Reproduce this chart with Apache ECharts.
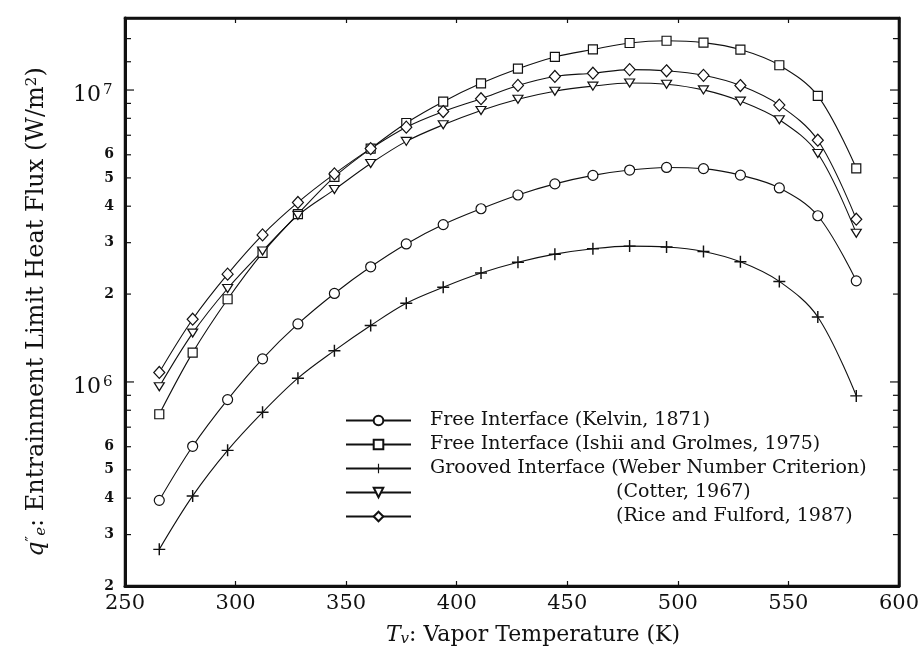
<!DOCTYPE html>
<html>
<head>
<meta charset="utf-8">
<script src="https://cdn.jsdelivr.net/npm/echarts@6/dist/echarts.min.js"></script>
<style>
  html, body { margin: 0; background: #fff; }
  #chart { width: 922px; height: 663px; }
</style>
</head>
<body>
<div id="chart"></div>
<script>
// vapor temperature (K) of each computed point
const temps = [265.5, 280.6, 296.4, 312.2, 328.2, 344.7, 361.1, 377.2, 393.9, 411.0,
               427.7, 444.4, 461.6, 478.2, 494.9, 511.6, 528.3, 545.9, 563.3, 580.7];

// entrainment limit heat flux (W/m2)
const kelvin = [3.93e5, 6.02e5, 8.70e5, 1.20e6, 1.58e6, 2.01e6, 2.48e6, 2.97e6, 3.46e6, 3.92e6,
                4.37e6, 4.77e6, 5.10e6, 5.32e6, 5.43e6, 5.38e6, 5.11e6, 4.62e6, 3.71e6, 2.22e6];
const ishii = [7.75e5, 1.26e6, 1.92e6, 2.77e6, 3.76e6, 5.04e6, 6.30e6, 7.71e6, 9.12e6, 1.054e7,
               1.183e7, 1.298e7, 1.377e7, 1.449e7, 1.475e7, 1.453e7, 1.376e7, 1.216e7, 9.55e6, 5.39e6];
const weber = [2.67e5, 4.07e5, 5.83e5, 7.87e5, 1.03e6, 1.28e6, 1.56e6, 1.86e6, 2.11e6, 2.36e6,
               2.57e6, 2.74e6, 2.86e6, 2.92e6, 2.90e6, 2.80e6, 2.58e6, 2.21e6, 1.67e6, 8.96e5];
const cotter = [9.63e5, 1.47e6, 2.09e6, 2.81e6, 3.72e6, 4.56e6, 5.60e6, 6.67e6, 7.60e6, 8.51e6,
                9.30e6, 9.91e6, 1.031e7, 1.057e7, 1.047e7, 1.001e7, 9.16e6, 7.91e6, 6.06e6, 3.23e6];
const rice = [1.078e6, 1.64e6, 2.34e6, 3.19e6, 4.12e6, 5.16e6, 6.30e6, 7.46e6, 8.44e6, 9.34e6,
              1.037e7, 1.113e7, 1.142e7, 1.175e7, 1.164e7, 1.123e7, 1.036e7, 8.88e6, 6.73e6, 3.61e6];

const names = [
  'Free Interface (Kelvin, 1871)',
  'Free Interface (Ishii and Grolmes, 1975)',
  'Grooved Interface (Weber Number Criterion)',
  '(Cotter, 1967)',
  '(Rice and Fulford, 1987)'
];

// y axis ticks / labels (log scale, drawn by hand)
const yMajorTicks = [1e6, 1e7];
const yMinorTicks = [3e5, 4e5, 5e5, 6e5, 7e5, 8e5, 9e5, 2e6, 3e6, 4e6, 5e6, 6e6, 7e6, 8e6, 9e6, 1.25e7, 1.5e7];
const yMinorLabels = [2e5, 3e5, 4e5, 5e5, 6e5, 2e6, 3e6, 4e6, 5e6, 6e6];
const yMin = 2e5, yMax = 1.765e7;

const ink = '#111';
const serif = 'DejaVu Serif';
const plusPath = 'path://M-0.6,-5L0.6,-5L0.6,-0.6L5,-0.6L5,0.6L0.6,0.6L0.6,5L-0.6,5L-0.6,0.6L-5,0.6L-5,-0.6L-0.6,-0.6Z';

function mk(name, vals, symbol, size, rotate, filled) {
  return {
    name: name,
    type: 'line',
    smooth: 0.35,
    data: temps.map((t, i) => [t, vals[i]]),
    symbol: symbol,
    symbolSize: size,
    symbolRotate: rotate || 0,
    showAllSymbol: true,
    lineStyle: { color: ink, width: 1.1 },
    itemStyle: filled ? { color: ink, borderWidth: 0 } : { color: '#fff', borderColor: ink, borderWidth: 1.2 },
    emphasis: { disabled: true },
    z: 3
  };
}

const chart = echarts.init(document.getElementById('chart'));

const option = {
  animation: false,
  backgroundColor: '#fff',
  grid: { left: 125, right: 22, top: 18, bottom: 77, show: true, borderColor: ink, borderWidth: 2.5 },
  legend: {
    left: 340, top: 406, orient: 'vertical',
    itemWidth: 65, itemHeight: 12, itemGap: 5,
    selectedMode: false,
    data: names,
    formatter: function (n) {
      return names.indexOf(n) < 3 ? '{a|' + n + '}' : '{b|' + n + '}';
    },
    textStyle: {
      color: ink, fontFamily: serif, fontSize: 19,
      rich: {
        a: { color: ink, fontFamily: serif, fontSize: 19, lineHeight: 22, padding: [0, 0, 0, 14] },
        b: { color: ink, fontFamily: serif, fontSize: 19, lineHeight: 22, padding: [0, 0, 0, 200] }
      }
    }
  },
  xAxis: [{
    type: 'value', min: 250, max: 600, interval: 50, position: 'bottom',
    axisLine: { lineStyle: { color: ink, width: 3 } },
    axisTick: { inside: true, length: 5, lineStyle: { color: ink, width: 1.2 } },
    axisLabel: { color: ink, fontFamily: serif, fontSize: 21, margin: 7 },
    splitLine: { show: false },
    name: '{i|T}{sub|v}{t|: Vapor Temperature (K)}',
    nameLocation: 'middle', nameGap: 38,
    nameTextStyle: {
      padding: [0, 0, 0, 42],
      rich: {
        i: { fontFamily: serif, fontStyle: 'italic', fontSize: 22, color: ink },
        sub: { fontFamily: serif, fontStyle: 'italic', fontSize: 15, color: ink, verticalAlign: 'bottom', padding: [8, 0, 0, 0] },
        t: { fontFamily: serif, fontSize: 22, color: ink }
      }
    }
  }, {
    type: 'value', min: 250, max: 600, interval: 50, position: 'top',
    axisLine: { lineStyle: { color: ink, width: 2.5 } },
    axisTick: { inside: true, length: 5, lineStyle: { color: ink, width: 1.2 } },
    axisLabel: { show: false },
    splitLine: { show: false }
  }],
  yAxis: [{
    type: 'log', logBase: 10, min: yMin, max: yMax, position: 'left',
    axisLine: { lineStyle: { color: ink, width: 3 } },
    axisTick: { show: false },
    axisLabel: { show: false },
    splitLine: { show: false },
    name: '{q|q}{sup|″}{sub|e}{t|: Entrainment Limit Heat Flux (W/m}{sup|2}{t|)}',
    nameLocation: 'middle', nameGap: 76, nameRotate: 90,
    nameTextStyle: {
      padding: [0, 20, 0, 0],
      rich: {
        q: { fontFamily: serif, fontStyle: 'italic', fontSize: 24, color: ink },
        sup: { fontFamily: serif, fontSize: 15, color: ink, verticalAlign: 'top' },
        sub: { fontFamily: serif, fontStyle: 'italic', fontSize: 15, color: ink, verticalAlign: 'bottom' },
        t: { fontFamily: serif, fontSize: 24, color: ink }
      }
    }
  }, {
    type: 'log', logBase: 10, min: yMin, max: yMax, position: 'right',
    axisLine: { lineStyle: { color: ink, width: 2.5 } },
    axisTick: { show: false },
    axisLabel: { show: false },
    splitLine: { show: false }
  }],
  series: [
    mk(names[0], kelvin, 'circle', 10),
    mk(names[1], ishii, 'rect', 9),
    mk(names[2], weber, plusPath, 12, 0, true),
    mk(names[3], cotter, 'triangle', [10, 8], 180),
    mk(names[4], rice, 'diamond', [11, 12])
  ]
};

chart.setOption(option);

// y ticks and labels placed with the axis scale
const xl = chart.convertToPixel({ xAxisIndex: 0 }, 250);
const xr = chart.convertToPixel({ xAxisIndex: 0 }, 600);
const yPx = v => chart.convertToPixel({ yAxisIndex: 0 }, v);
const g = [];
const tick = (y, len) => {
  g.push({ type: 'line', shape: { x1: xl, y1: y, x2: xl + len, y2: y }, style: { stroke: ink, lineWidth: 1.2 }, z: 10 });
  g.push({ type: 'line', shape: { x1: xr, y1: y, x2: xr - len, y2: y }, style: { stroke: ink, lineWidth: 1.2 }, z: 10 });
};
yMinorTicks.forEach(v => tick(yPx(v), 6));
yMajorTicks.forEach(v => {
  const y = yPx(v);
  tick(y, 9);
  g.push({ type: 'text', x: xl - 24, y: y + 5, style: { text: '10', font: '22px "' + serif + '"', fill: ink, align: 'right', verticalAlign: 'middle' }, z: 10 });
  g.push({ type: 'text', x: xl - 22, y: y, style: { text: String(Math.round(Math.log10(v))), font: '15px "' + serif + '"', fill: ink, align: 'left', verticalAlign: 'middle' }, z: 10 });
});
yMinorLabels.forEach(v => {
  const m = Math.round(v / Math.pow(10, Math.floor(Math.log10(v) + 1e-9)));
  g.push({ type: 'text', x: xl - 16, y: yPx(v), style: { text: String(m), font: 'bold 14px "' + serif + '"', fill: ink, align: 'center', verticalAlign: 'middle' }, z: 10 });
});
chart.setOption({ graphic: g });
</script>
</body>
</html>
